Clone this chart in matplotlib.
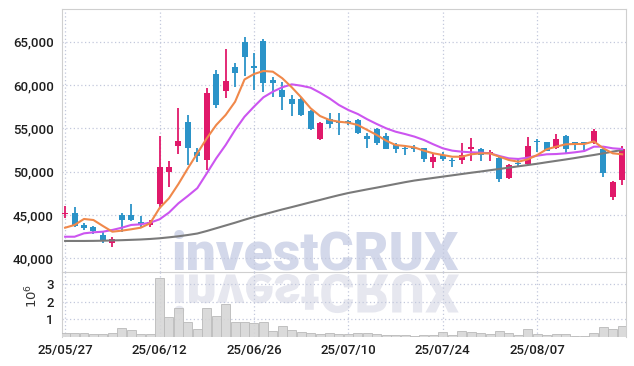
import numpy as np
import matplotlib
matplotlib.use("Agg")
import matplotlib.pyplot as plt
from matplotlib.ticker import FuncFormatter
from matplotlib.textpath import TextPath
from matplotlib.patches import PathPatch
from matplotlib.font_manager import FontProperties
from matplotlib.transforms import Affine2D

# daily candles, 25/05/27 .. 25/08/21 (trading days)
opens = [45150, 45200, 43900, 43600, 42700, 41750, 44950, 45000, 44150, 43900,
         46250, 50000, 53000, 55750, 52250, 51350, 61300, 59350, 62050, 64950,
         62250, 65100, 60600, 59450, 58400, 58450, 57000, 53800, 56100, 55850,
         55850, 55970, 54120, 54900, 54120, 53080, 52750, 52750, 52700, 51120,
         51930, 51430, 51350, 52750, 52590, 52040, 51620, 49240, 51050, 50850,
         53580, 53390, 52700, 54120, 53400, 53400, 53350, 52590, 47040, 49040]
highs = [46000, 45900, 44100, 43750, 43000, 42400, 45200, 46250, 44900, 44400,
         54100, 51250, 57300, 56550, 52700, 59700, 61800, 64150, 62500, 65500,
         63750, 65300, 60900, 60400, 58850, 58650, 57100, 55700, 56800, 56750,
         56000, 56050, 54500, 55010, 54430, 53280, 52820, 53080, 52770, 52120,
         52310, 51620, 53350, 53860, 52700, 52500, 51700, 50850, 51430, 53970,
         53720, 53450, 54320, 54200, 53450, 53450, 54930, 52650, 48900, 53000]
lows = [44600, 43650, 43300, 42800, 41800, 41350, 43000, 44250, 43650, 43650,
        45950, 48250, 52100, 50800, 51150, 50200, 57400, 58500, 59800, 61000,
        59450, 59250, 58650, 57100, 56450, 56400, 54800, 53650, 55000, 54250,
        55400, 54400, 52700, 53080, 52580, 52120, 51930, 52240, 51120, 50390,
        51240, 50580, 50890, 51240, 51270, 51240, 48850, 49150, 50580, 50740,
        52310, 52390, 52580, 52200, 52500, 52500, 53250, 49420, 46730, 48460]
closes = [45250, 43750, 43550, 43150, 42050, 42200, 44450, 44450, 43950, 44200,
          50500, 50550, 53550, 52700, 51800, 59050, 57700, 60450, 61450, 63300,
          62100, 60200, 60200, 58650, 57800, 56550, 54950, 55600, 55500, 55650,
          55620, 54500, 53740, 53350, 52620, 52590, 52650, 52650, 51430, 51730,
          51500, 51270, 51930, 52880, 51930, 52270, 49160, 50770, 50950, 52970,
          53500, 52390, 53740, 52620, 53330, 53330, 54700, 49880, 48850, 52620]
volume = [0.2, 0.2, 0.2, 0.15, 0.15, 0.2, 0.49, 0.38, 0.15, 0.15,
          3.32, 1.12, 1.62, 0.86, 0.43, 1.62, 1.19, 1.85, 0.83, 0.86,
          0.81, 0.86, 0.36, 0.62, 0.40, 0.28, 0.21, 0.17, 0.23, 0.17,
          0.17, 0.22, 0.22, 0.15, 0.12, 0.10, 0.10, 0.05, 0.10, 0.10,
          0.26, 0.10, 0.32, 0.26, 0.20, 0.15, 0.32, 0.20, 0.10, 0.45,
          0.15, 0.10, 0.15, 0.15, 0.05, 0.05, 0.20, 0.55, 0.45, 0.62]

# moving averages as drawn
ma_short = [43530, 43850, 44540, 44420, 43730, 43070, 43190, 43350, 43530, 44040,
            45800, 46930, 48580, 50390, 52120, 53850, 55390, 56550, 58080, 60650,
            61280, 61630, 61550, 60790, 59750, 58590, 57320, 56430, 55970, 55770,
            55660, 55390, 54820, 54240, 53580, 53080, 52970, 52800, 52430, 52120,
            51930, 51730, 51730, 52010, 52120, 52120, 51730, 51350, 51150, 51430,
            51930, 52590, 52890, 53160, 53200, 53200, 53500, 52700, 52120, 52010]
ma_mid = [42490, 42490, 42880, 43000, 43070, 43270, 43530, 43850, 43920, 44110,
          44500, 45280, 46350, 47200, 48100, 49810, 51540, 53080, 54820, 56350,
          57510, 58590, 59240, 59750, 60090, 59930, 59700, 59120, 58470, 57700,
          57120, 56660, 56050, 55510, 55010, 54620, 54350, 54050, 53660, 53160,
          52700, 52430, 52310, 52240, 52200, 52120, 51810, 51540, 51470, 51620,
          51850, 52010, 52040, 52120, 52240, 52390, 52890, 52890, 52700, 52620]
ma_long = [42000, 42000, 42000, 42010, 42030, 42060, 42090, 42130, 42170, 42230,
           42310, 42420, 42540, 42690, 42860, 43150, 43470, 43790, 44110, 44450,
           44770, 45060, 45350, 45640, 45910, 46190, 46470, 46740, 47020, 47290,
           47540, 47750, 47960, 48160, 48370, 48580, 48790, 48980, 49130, 49280,
           49430, 49580, 49730, 49880, 50020, 50170, 50320, 50470, 50620, 50770,
           50920, 51090, 51250, 51410, 51580, 51760, 51930, 52120, 52320, 52510]

tick_pos = [0, 10, 20, 30, 40, 50]
tick_labels = ['25/05/27', '25/06/12', '25/06/26', '25/07/10', '25/07/24', '25/08/07']

UP = '#e0196a'
DOWN = '#2b93c8'
GRID = '#c3c8dc'
SPINE = '#cfcfcf'

plt.rcParams['font.family'] = ['Roboto', 'DejaVu Sans']
plt.rcParams['font.weight'] = 'medium'

fig = plt.figure(figsize=(6.34, 3.66), dpi=100)
W, H = 634, 366
ax = fig.add_axes([62 / W, 1 - 271.7 / H, 564 / W, 262.7 / H])
axv = fig.add_axes([62 / W, 1 - 337 / H, 564 / W, 65.3 / H], sharex=ax)
ax.set_facecolor('none')
axv.set_facecolor('none')

x = np.arange(len(opens))
o = np.array(opens); c = np.array(closes)
cols = [UP if cc >= oo else DOWN for oo, cc in zip(o, c)]

ax.vlines(x, lows, highs, colors=cols, lw=1.3, zorder=3)
body = np.maximum(np.abs(c - o), 170)
bottom = np.minimum(o, c) - np.where(np.abs(c - o) < 170, 85, 0)
ax.bar(x, body, bottom=bottom, width=0.64, color=cols, linewidth=0, zorder=4)

ax.plot(x, ma_long, color='#7a7a7a', lw=1.5, zorder=5)
ax.plot(x, ma_mid, color='#cc55f0', lw=1.5, zorder=5)
ax.plot(x, ma_short, color='#f0884a', lw=1.5, zorder=5)

ax.set_xlim(-0.33, 59.4)
ax.set_ylim(38450, 68790)
ax.set_yticks([40000, 45000, 50000, 55000, 60000, 65000])
ax.yaxis.set_major_formatter(FuncFormatter(lambda v, p: f'{int(v):,}'))
ax.set_xticks(tick_pos)
ax.tick_params(axis='x', labelbottom=False, length=0)
ax.tick_params(axis='y', length=0, pad=6, labelsize=9.5, labelcolor='#1e1e1e')
ax.grid(True, color=GRID, ls=(0, (1, 2)), lw=0.9, zorder=1)
for s in ax.spines.values():
    s.set_color(SPINE)

axv.bar(x, volume, width=0.95, color='#d6d6d6', edgecolor='#bcbcbc', lw=0.7,
        alpha=0.9, zorder=3)
axv.set_ylim(0, 3.69)
axv.set_yticks([1, 2, 3])
axv.set_xticks(tick_pos)
axv.set_xticklabels(tick_labels)
axv.tick_params(axis='both', length=0, labelsize=9.5, labelcolor='#1e1e1e')
axv.tick_params(axis='y', pad=6)
axv.tick_params(axis='x', pad=5)
axv.grid(True, color=GRID, ls=(0, (1, 2)), lw=0.9, zorder=1)
for s in axv.spines.values():
    s.set_color(SPINE)
axv.spines['bottom'].set_visible(False)
axv.spines['top'].set_visible(False)
fig.text(32 / W, 1 - 296 / H, r'$10^6$', rotation=90, ha='center', va='center',
         fontsize=9.5, color='#333333')

# watermark and its reflection
wm_font = FontProperties(family='Roboto', weight='black', size=38.5)
fig.text(172 / W, 1 - 269.5 / H, 'investCRUX', fontproperties=wm_font,
         color='#d3d8ea', ha='left', va='baseline', zorder=-2)
tp = TextPath((0, 0), 'investCRUX', prop=wm_font)
tr = Affine2D().scale(1 / 72, -1 / 72).translate(172 / 100, (H - 274.5) / 100) + fig.dpi_scale_trans
fig.add_artist(PathPatch(tp, transform=tr, facecolor='#e6e7ef', edgecolor='none', zorder=-2))

fig.savefig('out.png', dpi=100)
